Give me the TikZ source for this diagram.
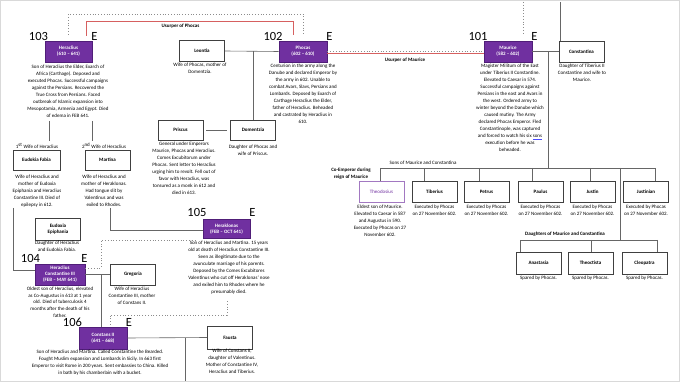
\documentclass[tikz,border=0pt]{standalone}
\usepackage{fontspec}
\setmainfont{Carlito}
\definecolor{royal}{RGB}{112,48,160}
\definecolor{royaldark}{RGB}{80,30,120}
\definecolor{usurpred}{RGB}{214,96,96}
\newcommand{\sonsword}{{\color{blue!70}\underline{\color{black}sons}}}
\begin{document}
\begin{tikzpicture}[x=1pt, y=-1pt,
        every node/.style={font=\fontsize{5}{7}\selectfont, inner sep=0pt},
        person/.style={draw=black!75, fill=white, line width=0.7pt, minimum width=45pt,
            minimum height=21pt, align=center, font=\fontsize{5}{6}\selectfont\bfseries},
        emperor/.style={person, draw=royaldark, fill=royal, text=white},
        coemperor/.style={person, draw=royal!65, text=royal, font=\fontsize{5}{6}\selectfont},
        note/.style={anchor=north, align=center},
        regnal/.style={font=\fontsize{12.5}{14}\selectfont},
        heading/.style={align=center, font=\fontsize{5}{6.5}\selectfont\bfseries},
        tie/.style={draw=black!60, line width=0.6pt},
        reign/.style={draw=black!45, dotted, line width=0.8pt},
        usurp/.style={draw=usurpred, line width=0.7pt}]
    \useasboundingbox (0,0) rectangle (680,382);
    \draw[black!15, line width=1pt] (0.5,0.5) rectangle (679.5,381.5);

    \node[emperor, minimum width=47pt] (heraclius) at (68.5,51.5) {Heraclius\\(610 -- 641)};
    \node[emperor, minimum width=48pt] (phocas) at (303,51.5) {Phocas\\(602 -- 610)};
    \node[emperor, minimum width=48pt] (maurice) at (508,51.5) {Maurice\\(582 -- 602)};
    \node[emperor, minimum width=47pt, minimum height=19pt] (heraklonas) at (226.5,229) {Heraklonas\\(FEB -- OCT 641)};
    \node[emperor, minimum width=50pt] (hc3) at (60,274.5) {Heraclius\\Constantine III\\(FEB -- MAY 641)};
    \node[emperor, minimum width=48pt, minimum height=22pt] (constans) at (103,338) {Constans II\\(641 -- 668)};
    \foreach \num/\x/\ex/\y in {103/38.5/94.5/36, 102/273/329.5/36, 101/478/534.5/36,
                               105/197/252.5/212, 104/30.5/84.5/258, 106/72.5/129/322} {
        \node[regnal] (num-\num) at (\x,\y) {\num};
        \node[regnal] (e-\num) at (\ex,\y) {E};
    }

    \node[person] (leontia) at (202,51) {Leontia};
    \node[person] (constantina) at (581.5,51.5) {Constantina};
    \node[person, minimum height=20pt] (priscus) at (180.5,130) {Priscus};
    \node[person, minimum height=20pt] (domentzia) at (253,130) {Domentzia};
    \node[person, minimum width=47pt, minimum height=20pt] (eudokia) at (36.5,160) {Eudokia Fabia};
    \node[person, minimum height=20pt] (martina) at (107.5,160) {Martina};
    \node[person, minimum height=22pt] (eudoxia) at (58,229) {Eudoxia\\Epiphania};
    \node[person] (gregoria) at (133,274.5) {Gregoria};
    \node[person, minimum height=23pt] (fausta) at (230,337.5) {Fausta};

    \node[heading] (usurp-phocas) at (180.5,26) {Usurper of Phocas};
    \node[heading] (usurp-maurice) at (405,60) {Usurper of Maurice};
    \node (wife1) at (37,146) {1\textsuperscript{st} Wife of Heraclius};
    \node (wife2) at (104,146) {2\textsuperscript{nd} Wife of Heraclius};
    \node (sons-title) at (423,163) {Sons of Maurice and Constantina};
    \node[heading] (co-title) at (351,173.5) {Co-Emperor during\\reign of Maurice};
    \node[heading] (daughters-title) at (565,234.5) {Daughters of Maurice and Constantina};

    \node[note] (heraclius-text) at (68,65) {Son of Heraclius the Elder, Exarch of\\Africa (Carthage).  Deposed and\\executed Phocas.  Successful campaigns\\against the Persians.  Recovered the\\True Cross from Persians.  Faced\\outbreak of Islamic expansion into\\Mesopotamia, Armenia and Egypt.  Died\\of edema in FEB 641.};
    \node[note] (leontia-text) at (200,63) {Wife of Phocas, mother of\\Domentzia.};
    \node[note] (phocas-text) at (303,64) {Centurion in the army along the\\Danube and declared Emperor by\\the army in 602.  Unable to\\combat Avars, Slavs, Persians and\\Lombards.  Deposed by Exarch of\\Carthage Heraclius the Elder,\\father of Heraclius.  Beheaded\\and castrated by Heraclius in\\610.};
    \node[note] (maurice-text) at (510,64) {Magister Militum of the East\\under Tiberius II Constantine.\\Elevated to Caesar in 574.\\Successful campaigns against\\Persians in the east and Avars in\\the west.  Ordered army to\\winter beyond the Danube which\\caused mutiny.  The Army\\declared Phocas Emperor.  Fled\\Constantinople, was captured\\and forced to watch his six \sonsword\\execution before he was\\beheaded.};
    \node[note] (constantina-text) at (582,64) {Daughter of Tiberius II\\Constantine and wife to\\Maurice.};
    \node[note] (priscus-text) at (184,142) {General under Emperors\\Maurice, Phocas and Heraclius.\\Comes Excubitorum under\\Phocas.  Sent letter to Heraclius\\urging him to revolt.  Fell out of\\favor with Heraclius, was\\tonsured as a monk in 612 and\\died in 613.};
    \node[note] (domentzia-text) at (253,145) {Daughter of Phocas and\\wife of Priscus.};
    \node[note] (eudokia-text) at (37,175) {Wife of Heraclius and\\mother of Eudoxia\\Epiphania and Heraclius\\Constantine III.  Died of\\epilepsy in 612.};
    \node[note] (martina-text) at (104,175) {Wife of Heraclius and\\mother of Heraklonas.\\Had tongue slit by\\Valentinus and was\\exiled to Rhodes.};
    \node[note] (eudoxia-text) at (57,241) {Daughter of Heraclius\\and Eudokia Fabia.};
    \node[note] (heraklonas-text) at (229,241) {Son of Heraclius and Martina.  15 years\\old at death of Heraclius Constantine III.\\Seen as illegitimate due to the\\avunculate marriage of his parents.\\Deposed by the Comes Excubitores\\Valentinus who cut off Heraklonas' nose\\and exiled him to Rhodes where he\\presumably died.};
    \node[note, font=\fontsize{5}{6.6}\selectfont] (hc3-text) at (60,287) {Oldest son of Heraclius, elevated\\as Co-Augustus in 613 at 1 year\\old.  Died of tuberculosis 4\\months after the death of his\\father.};
    \node[note] (gregoria-text) at (132,287) {Wife of Heraclius\\Constantine III, mother\\of Constans II.};
    \node[note] (constans-text) at (100,350) {Son of Heraclius and Martina.  Called Constantine the Bearded.\\Fought Muslim expansion and Lombards in Sicily.  In 663 first\\Emperor to visit Rome in 200 years.  Sent embassies to China.  Killed\\in bath by his chamberlain with a bucket.};
    \node[note] (fausta-text) at (232,349) {Wife of Constans II,\\daughter of Valentinus.\\Mother of Constantine IV,\\Heraclius and Tiberius.};

    \node[coemperor] (theodosius) at (381.5,191.5) {Theodosius};
    \node[note] (theodosius-text) at (380,205) {Eldest son of Maurice.\\Elevated to Caesar in 587\\and Augustus in 590.\\Executed by Phocas on 27\\November 602.};
    \foreach \key/\label/\x in {tiberius/Tiberius/434.5, petrus/Petrus/486.5, paulus/Paulus/540.5,
                                justin/Justin/592.5, justinian/Justinian/646} {
        \node[person] (\key) at (\x,191.5) {\label};
        \node[note] (\key-text) at (\x,205) {Executed by Phocas\\on 27 November 602.};
    }
    \foreach \key/\label/\x in {anastasia/Anastasia/538.5, theoctista/Theoctista/590.5, cleopatra/Cleopatra/644.5} {
        \node[person, minimum height=22pt] (\key) at (\x,263) {\label};
        \node[note] (\key-text) at (\x,276) {Spared by Phocas.};
    }

    \coordinate (maurice-top) at (523,2);
    \coordinate (constantina-top) at (560,2);
    \coordinate (marriage-mc) at (548,51.5);
    \coordinate (sons-bar) at (620,168);
    \coordinate (daughters-bar) at (620,240);
    \coordinate (wife1-line) at (49,121);
    \coordinate (wife2-line) at (92,121);
    \coordinate (eudokia-line) at (13,208);
    \coordinate (martina-line) at (110,208);
    \coordinate (marriage-hg) at (101,274.5);
    \coordinate (marriage-cf) at (185,337.5);
    \coordinate (fausta-down) at (185,380.5);
    \coordinate (heraklonas-in) at (197,240);
    \coordinate (heraklonas-out) at (227,301);

    \draw[reign, shorten <=6pt, shorten >=6pt] (heraclius.north) -- (heraclius.north |- 0,14) -| (phocas.north);
    \draw[usurp, shorten <=5pt, shorten >=6pt] (heraclius.north -| 86,0) -- (86,21) -| (phocas.north -| 293,0);
    \draw[reign] (phocas.east) -- (maurice.west);
    \draw[usurp] ([yshift=-1.6pt]phocas.east) -- ([yshift=-1.6pt]maurice.west);
    \draw[reign, shorten >=6pt] (maurice-top) -- (maurice-top |- maurice.north);
    \draw[reign] ([yshift=6.5pt]hc3.east) -| (101,240) -- (heraklonas-in);
    \draw[reign] (heraklonas-out) |- (110,315) -- (constans.north -| 110,0);

    \draw[tie] (constantina-top) -- (constantina-top |- constantina.north);
    \draw[tie] (maurice.east) -- (constantina.west);
    \draw[tie] (leontia.east) -- (phocas.west);
    \draw[tie] (domentzia.north) -- (domentzia.north |- phocas.west);
    \draw[tie, shorten <=3pt, shorten >=3pt] (priscus.east) -- (domentzia.west);
    \draw[tie, shorten >=2pt] (wife1-line) -- (wife1-line |- wife1.north);
    \draw[tie, shorten >=2pt] (wife2-line) -- (wife2-line |- wife2.north);
    \draw[tie] (eudokia-line) |- ([yshift=4pt]hc3.west);
    \draw[tie] (martina-line) |- ([yshift=-1.5pt]heraklonas.west);
    \draw[tie] (hc3.east) -- (gregoria.west);
    \draw[tie] (marriage-hg) -- (marriage-hg |- constans.north);
    \draw[tie] (constans.east) -- (fausta.west);
    \draw[tie] (marriage-cf) -- (fausta-down);

    \draw[tie] (marriage-mc) -- (marriage-mc |- sons-bar);
    \draw[tie] (380,168) -- (655,168);
    \foreach \key/\drop in {theodosius/380, tiberius/424, petrus/479, paulus/532, justin/590, justinian/655}
        \draw[tie] (\drop,168) -- (\drop,168 |- \key.north);
    \draw[tie] (sons-bar) -- (daughters-bar);
    \draw[tie] (520,240) -- (657,240);
    \foreach \key/\drop in {anastasia/520, theoctista/591, cleopatra/657}
        \draw[tie] (\drop,240) -- (\drop,240 |- \key.north);
\end{tikzpicture}
\end{document}
